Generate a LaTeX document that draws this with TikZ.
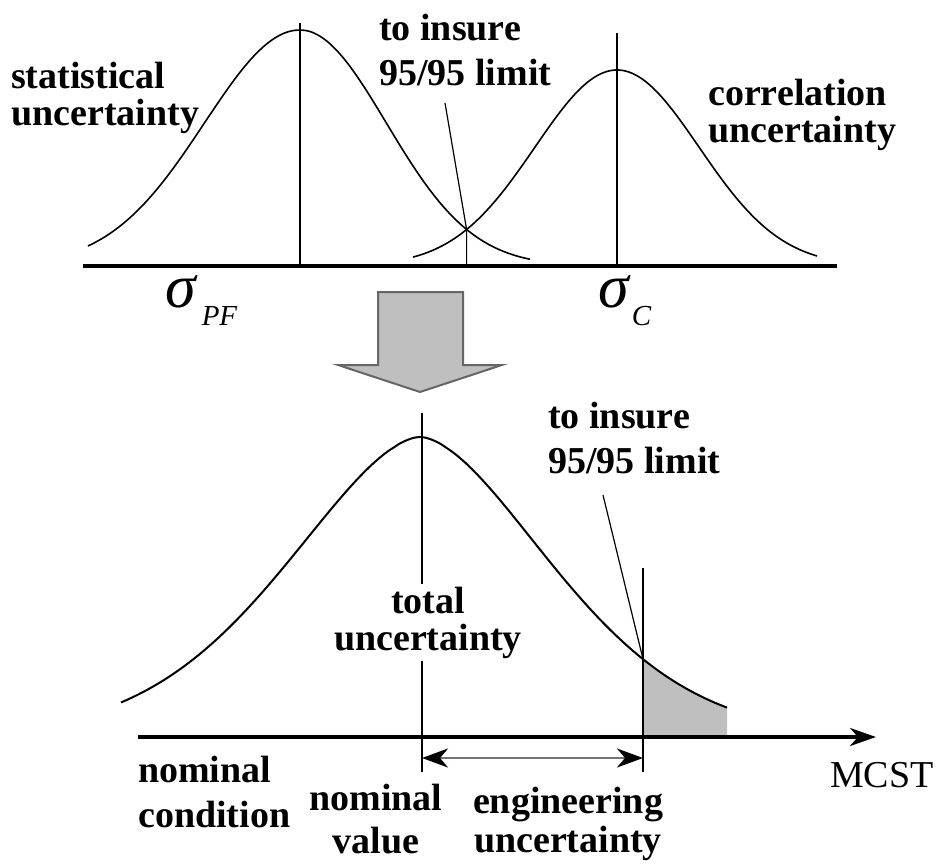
\documentclass[tikz,border=0pt]{standalone}
\usepackage{fontspec}
\setmainfont{Liberation Serif}
\usetikzlibrary{arrows.meta, intersections, calc}
\newcommand{\lblsize}[1]{\fontsize{38}{#1}\selectfont\bfseries}

\begin{document}
\begin{tikzpicture}[x=1pt, y=-1pt,
  declare function={bell(\u,\m,\w,\p)=exp(-((abs(\u-\m)/\w+0.0001)^\p));},
  lbl/.style={inner sep=0pt, anchor=base west, align=left},
  mid/.style={inner sep=0pt, anchor=base, align=center},
  curve/.style={line width=1.6pt, line join=round},
  guide/.style={line width=1.2pt},
  axis/.style={line width=3.5pt}]
  \useasboundingbox (0,0) rectangle (942,865);

  % upper axis and the two distributions
  \draw[axis] (83,266) coordinate (ua0) -- (837,266) coordinate (ua1);
  \draw[curve, name path=pf]
    plot[smooth, domain=88:300, samples=40] (\x, {266-236*bell(\x,300,135,2)})
    -- plot[smooth, domain=300:530, samples=40] (\x, {266-236*bell(\x,300,122,2)});
  \draw[curve, name path=cc]
    plot[smooth, domain=413:817, samples=70] (\x, {266-196*bell(\x,617,116,2)});
  \draw[guide] (300,23) -- (300,0 |- ua0);
  \draw[guide] (617,33) -- (617,0 |- ua0);
  \path[name intersections={of=pf and cc, by=cross}];
  \coordinate (tip1) at (445,103);
  \draw[guide] (tip1) -- (cross) -- (cross |- ua0);

  % labels are placed at the baseline of their last line
  \node[lbl, font=\lblsize{37}] (stat) at (11,125) {statistical\\uncertainty};
  \node[lbl, font=\lblsize{45}] (ins1) at (379,85) {to insure\\95/95 limit};
  \node[lbl, font=\lblsize{37}] (corr) at (708,142) {correlation\\uncertainty};

  \node[lbl, font=\fontsize{62}{62}\selectfont\itshape] (spf) at (165,307)
    {σ\hspace{6pt}\raisebox{-18pt}{\fontsize{29}{29}\selectfont PF}};
  \node[lbl, font=\fontsize{62}{62}\selectfont\itshape] (sc) at (598,307)
    {σ\hspace{3pt}\raisebox{-18pt}{\fontsize{29}{29}\selectfont C}};

  % big arrow
  \draw[line width=2pt, draw=black!60, fill=black!25, line join=miter]
    (378,292) -- (463,292) -- (463,365) -- (502,365) -- (420,392)
    -- (338,365) -- (378,365) -- cycle;

  % lower distribution
  \coordinate (nv) at (422,737);
  \coordinate (lim) at (643,737);
  \fill[black!25] plot[smooth, domain=643:727, samples=20] (\x, {737-300*bell(\x,420,187,1.7)})
    -- (727,735) -- (643,735) -- cycle;
  \draw[curve, line width=2pt, name path=tot]
    plot[smooth, domain=121:420, samples=60] (\x, {737-300*bell(\x,420,190,1.7)})
    -- plot[smooth, domain=420:727, samples=60] (\x, {737-300*bell(\x,420,187,1.7)});
  \draw[axis, -{Stealth[length=26pt, width=18pt, inset=8pt]}] (138,737) -- (876,737);
  \draw[guide] (422,413) -- ($(nv)+(0,35)$);
  \path[name path=limline] (643,568) -- ($(lim)+(0,35)$);
  \draw[guide] (643,568) -- ($(lim)+(0,35)$);
  \path[name intersections={of=tot and limline, by=meet}];
  \coordinate (tip2) at (603,495);
  \draw[guide] (tip2) -- (meet);
  \draw[line width=2.2pt, black!55,
    {Stealth[black, length=26pt, width=19pt, inset=8pt]}-{Stealth[black, length=26pt, width=19pt, inset=8pt]}]
    ($(nv)+(0,21)$) -- ($(lim)+(0,21)$);

  \node[lbl, font=\lblsize{45}] (ins2) at (548,473) {to insure\\95/95 limit};
  \node[mid, font=\lblsize{37}, fill=white, inner ysep=3pt] (total) at (428,650) {total\\uncertainty};
  \node[lbl, font=\lblsize{45}] (nomc) at (138,827) {nominal\\condition};
  \node[mid, font=\lblsize{43}] (nomv) at (376,853) {nominal\\value};
  \node[mid, font=\lblsize{39}] (eng) at (568,852) {engineering\\uncertainty};
  \node[lbl, font=\fontsize{38}{38}\selectfont] (mcst) at (830,787) {MCST};
\end{tikzpicture}
\end{document}
